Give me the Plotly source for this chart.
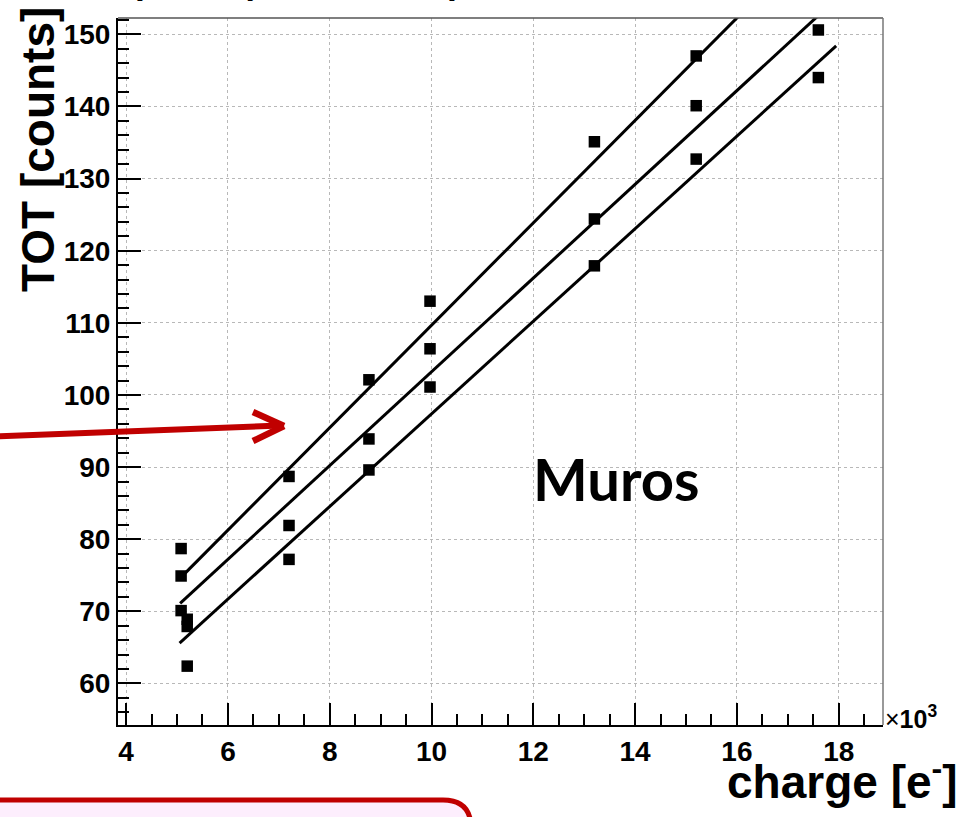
import plotly.graph_objects as go

# ---- data ----
charge_k = [5.08, 5.08, 5.08, 5.2, 5.2, 5.2, 7.2, 7.2, 7.2, 8.77, 8.77, 8.77,
            9.97, 9.97, 9.97, 13.2, 13.2, 13.2, 15.2, 15.2, 15.2, 17.6, 17.6]
tot_counts = [78.7, 74.9, 70.1, 68.9, 67.9, 62.4, 88.7, 81.9, 77.2, 102.1, 93.9, 89.6,
              113.0, 106.4, 101.1, 135.1, 124.4, 117.9, 147.0, 140.1, 132.7, 150.6, 144.0]

fit_top_x = [5.16, 16.3]
fit_top_y = [75.3, 154.4]
fit_mid_x = [5.06, 17.6]
fit_mid_y = [71.1, 152.6]
fit_bot_x = [5.05, 17.95]
fit_bot_y = [65.6, 148.4]

x_range = [3.84, 18.87]
y_range = [54.24, 152.26]

W, H = 965, 817
L, R, T, B = 118, 82, 18, 92
PW, PH = W - L - R, H - T - B


def px(xp):
    return (xp - L) / PW


def py(yp):
    return (H - B - yp) / PH


FONT = "Liberation Sans, Arial, sans-serif"
RED = "#C00000"

fig = go.Figure()
for fx, fy in [(fit_top_x, fit_top_y), (fit_mid_x, fit_mid_y), (fit_bot_x, fit_bot_y)]:
    fig.add_trace(go.Scatter(x=fx, y=fy, mode="lines",
                             line=dict(color="black", width=3),
                             showlegend=False, hoverinfo="skip"))
fig.add_trace(go.Scatter(x=charge_k, y=tot_counts, mode="markers",
                         marker=dict(symbol="square", size=11.5, color="black"),
                         showlegend=False))

axis_common = dict(
    showline=True, linecolor="black", linewidth=2, mirror=False,
    ticks="inside", tickcolor="black", tickwidth=2,
    showgrid=True, gridcolor="#b8b8b8", gridwidth=1, griddash="dot",
    zeroline=False,
    tickfont=dict(family=FONT, size=28, color="black", weight="bold"),
)

fig.update_xaxes(range=x_range, tick0=0, dtick=2, ticklen=22,
                 minor=dict(dtick=0.5, ticks="inside", ticklen=11, tickcolor="black",
                            tickwidth=2, showgrid=False),
                 **axis_common)
fig.update_yaxes(range=y_range, tick0=0, dtick=10, ticklen=23,
                 minor=dict(dtick=2, ticks="inside", ticklen=11, tickcolor="black",
                            tickwidth=2, showgrid=False),
                 **axis_common)

shapes = []
# frame top/right
shapes.append(dict(type="line", xref="paper", yref="paper", x0=0, x1=1, y0=1, y1=1,
                   line=dict(color="#555555", width=1.5)))
shapes.append(dict(type="line", xref="paper", yref="paper", x0=1, x1=1, y0=0, y1=1,
                   line=dict(color="#777777", width=1.5)))
# red arrow
shapes.append(dict(type="line", xref="paper", yref="paper",
                   x0=px(-5), y0=py(436.5), x1=px(281), y1=py(425.5),
                   line=dict(color=RED, width=6)))
shapes.append(dict(type="line", xref="paper", yref="paper",
                   x0=px(253), y0=py(412), x1=px(284), y1=py(426),
                   line=dict(color=RED, width=6.5)))
shapes.append(dict(type="line", xref="paper", yref="paper",
                   x0=px(253), y0=py(441), x1=px(284), y1=py(426),
                   line=dict(color=RED, width=6.5)))
# red rounded box at bottom-left
yt, xr, xc, rr = py(800), px(471), px(443), 28 / PH
path = (f"M {px(-20)},{yt} L {xc},{yt} Q {xr},{yt} {xr},{yt - rr} "
        f"L {xr},{py(840)} L {px(-20)},{py(840)} Z")
shapes.append(dict(type="path", xref="paper", yref="paper", path=path,
                   fillcolor="#FDEEFD", line=dict(color=RED, width=5)))

annotations = [
    dict(text="TOT [counts]", textangle=-90, xref="paper", yref="paper",
         x=px(38), y=py(150), xanchor="center", yanchor="middle", showarrow=False,
         font=dict(family=FONT, size=46, color="black", weight="bold")),
    dict(text="charge [e<sup>-</sup>]", xref="paper", yref="paper",
         x=px(960), y=py(779), xanchor="right", yanchor="middle", showarrow=False,
         font=dict(family=FONT, size=46, color="black", weight="bold")),
    dict(text="×<b>10<sup>3</sup></b>", xref="paper", yref="paper",
         x=px(883), y=py(717), xanchor="left", yanchor="middle", showarrow=False,
         font=dict(family=FONT, size=25, color="black")),
    dict(text="Muros", xref="paper", yref="paper",
         x=px(616), y=py(478), xanchor="center", yanchor="middle", showarrow=False,
         font=dict(family="Lato, Open Sans, sans-serif", size=58, color="black", weight="bold")),
]
# cut-off slide title descenders at the very top
for ch, xp in [("p", 146), ("y", 254), ("p", 458)]:
    annotations.append(dict(text=ch, xref="paper", yref="paper", x=px(xp), y=py(5.5),
                            xanchor="center", yanchor="bottom", showarrow=False,
                            font=dict(family="Lato, sans-serif", size=40, color="black",
                                      weight="bold")))

fig.update_layout(width=W, height=H, margin=dict(l=L, r=R, t=T, b=B, autoexpand=False),
                  paper_bgcolor="white", plot_bgcolor="white",
                  shapes=shapes, annotations=annotations, showlegend=False)

fig.write_html("out.html")
